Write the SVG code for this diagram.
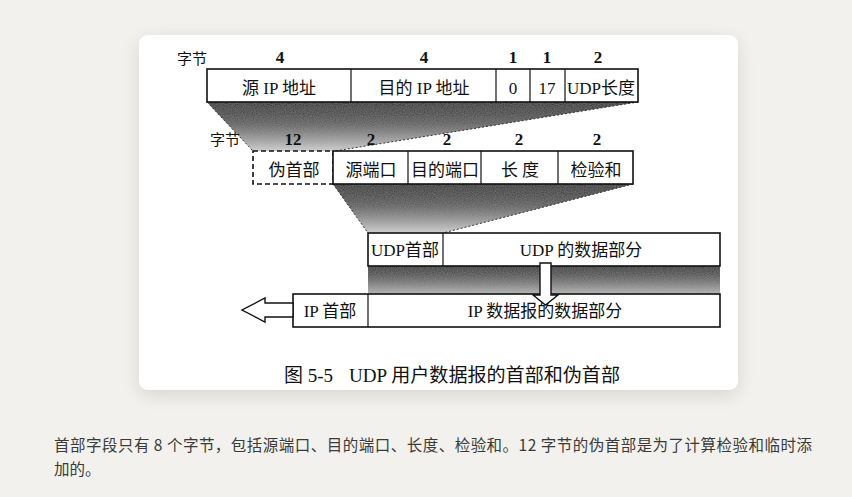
<svg xmlns="http://www.w3.org/2000/svg" width="852" height="497" viewBox="0 0 852 497">
<style>
.box{fill:#fff;stroke:#111;stroke-width:1.6}
.dash{fill:#fff;stroke:#111;stroke-width:1.6;stroke-dasharray:5 3}
.div{stroke:#111;stroke-width:1.2}
.dot{stroke:#333;stroke-width:1;stroke-dasharray:2 2;fill:none}
.t{font-family:"Liberation Serif","Noto Sans CJK SC",serif;font-size:17px;fill:#111;text-anchor:middle}
.lbl{font-family:"Noto Sans CJK SC",sans-serif;font-size:15px;fill:#111;text-anchor:middle}
.n{font-family:"Liberation Serif",serif;font-size:17px;font-weight:bold;fill:#111;text-anchor:middle}
.cap{font-family:"Liberation Serif","Noto Sans CJK SC",serif;font-size:19px;fill:#111}
.body{font-family:"Noto Sans CJK SC","Noto Sans",sans-serif;font-size:15.5px;fill:#3a3a3a}
.arr{fill:#fff;stroke:#111;stroke-width:1.4}
</style>
<defs>
<linearGradient id="g1" x1="0" y1="0" x2="0" y2="1">
<stop offset="0" stop-color="#0d0d0d"/>
<stop offset="0.45" stop-color="#555"/>
<stop offset="1" stop-color="#d2d2d2"/>
</linearGradient>
<linearGradient id="g3" x1="0" y1="0" x2="0" y2="1">
<stop offset="0" stop-color="#111"/>
<stop offset="1" stop-color="#b5b5b5"/>
</linearGradient>
<filter id="grain" x="0" y="0" width="1" height="1">
<feTurbulence type="fractalNoise" baseFrequency="0.9" numOctaves="1" seed="3" result="n"/>
<feColorMatrix in="n" type="matrix" values="0 0 0 0 0.5  0 0 0 0 0.5  0 0 0 0 0.5  0 0 0 0.35 0" result="nn"/>
<feComposite in="nn" in2="SourceGraphic" operator="in" result="nc"/>
<feMerge><feMergeNode in="SourceGraphic"/><feMergeNode in="nc"/></feMerge>
</filter>
<filter id="sh" x="-10%" y="-10%" width="120%" height="125%">
<feGaussianBlur in="SourceAlpha" stdDeviation="9"/>
<feOffset dy="5" result="b"/>
<feComponentTransfer><feFuncA type="linear" slope="0.12"/></feComponentTransfer>
<feMerge><feMergeNode/><feMergeNode in="SourceGraphic"/></feMerge>
</filter>
</defs>
<rect x="0" y="0" width="852" height="497" fill="#f2f1ed"/>
<rect id="card" x="139" y="35" width="599" height="355" rx="9" fill="#fff" filter="url(#sh)"/>

<g id="shades">
<polygon points="207,102 638,102 335,151 253,151" fill="url(#g1)" filter="url(#grain)"/>
<polygon points="333,184 633,184 443,233 368,233" fill="url(#g1)" filter="url(#grain)"/>
<rect x="368" y="266" width="352" height="28" fill="url(#g3)" filter="url(#grain)"/>
</g>

<g id="connectors">
<line class="dot" x1="207" y1="102" x2="253" y2="151"/>
<line class="dot" x1="638" y1="102" x2="335" y2="151"/>
<line class="dot" x1="333" y1="184" x2="368" y2="233"/>
<line class="dot" x1="633" y1="184" x2="443" y2="233"/>
</g>

<g id="ip-pseudo-header">
<text x="192" y="64" class="lbl">字节</text>
<text x="280" y="63" class="n">4</text>
<text x="424" y="63" class="n">4</text>
<text x="513" y="63" class="n">1</text>
<text x="547" y="63" class="n">1</text>
<text x="598" y="63" class="n">2</text>
<rect class="box" x="207" y="69" width="431" height="33"/>
<line class="div" x1="351" y1="69" x2="351" y2="102"/>
<line class="div" x1="496" y1="69" x2="496" y2="102"/>
<line class="div" x1="530" y1="69" x2="530" y2="102"/>
<line class="div" x1="565" y1="69" x2="565" y2="102"/>
<text x="279" y="94" class="t">源 IP 地址</text>
<text x="424" y="94" class="t">目的 IP 地址</text>
<text x="513" y="94" class="t">0</text>
<text x="547" y="94" class="t">17</text>
<text x="601" y="94" class="t">UDP长度</text>
</g>

<g id="udp-header">
<text x="225" y="145" class="lbl">字节</text>
<text x="293" y="145" class="n">12</text>
<text x="371" y="145" class="n">2</text>
<text x="447" y="145" class="n">2</text>
<text x="519" y="145" class="n">2</text>
<text x="597" y="145" class="n">2</text>
<rect class="dash" x="253" y="151" width="80" height="33"/>
<rect class="box" x="333" y="151" width="300" height="33"/>
<line class="div" x1="408" y1="151" x2="408" y2="184"/>
<line class="div" x1="481" y1="151" x2="481" y2="184"/>
<line class="div" x1="558" y1="151" x2="558" y2="184"/>
<text x="294" y="176" class="t">伪首部</text>
<text x="371" y="176" class="t">源端口</text>
<text x="445" y="176" class="t">目的端口</text>
<text x="520" y="176" class="t">长 度</text>
<text x="596" y="176" class="t">检验和</text>
</g>

<g id="udp-datagram">
<rect class="box" x="368" y="233" width="352" height="33"/>
<line class="div" x1="443" y1="233" x2="443" y2="266"/>
<text x="405" y="256" class="t">UDP首部</text>
<text x="581" y="256" class="t">UDP 的数据部分</text>
</g>

<g id="ip-datagram">
<rect class="box" x="293" y="294" width="427" height="33"/>
<line class="div" x1="368" y1="294" x2="368" y2="327"/>
<text x="330" y="317" class="t">IP 首部</text>
<text x="545" y="317" class="t">IP 数据报的数据部分</text>
</g>

<g id="arrows">
<polygon class="arr" points="540,263 551,263 551,295 558,295 545.5,305 533,295 540,295"/>
<polygon class="arr" points="293,303 265,303 265,298 242,310 265,322 265,317 293,317"/>
</g>

<g id="caption">
<text x="284" y="382" class="cap">图 5-5</text>
<text x="349" y="382" class="cap" textLength="271" lengthAdjust="spacingAndGlyphs">UDP 用户数据报的首部和伪首部</text>
</g>

<g id="body-text">
<text x="54" y="451" class="body" textLength="758" lengthAdjust="spacing">首部字段只有 8 个字节，包括源端口、目的端口、长度、检验和。12 字节的伪首部是为了计算检验和临时添</text>
<text x="54" y="475" class="body">加的。</text>
</g>
</svg>
